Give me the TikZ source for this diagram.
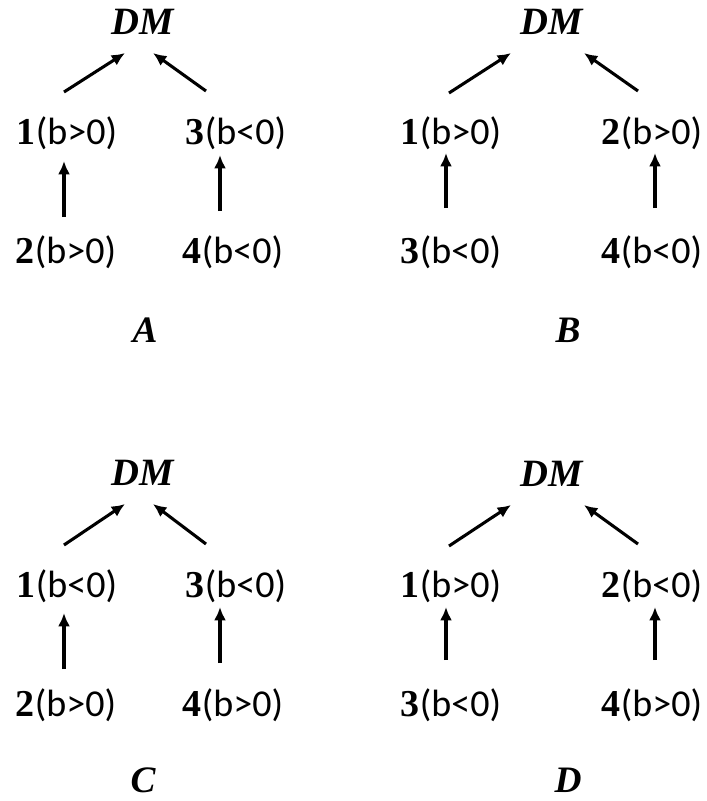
\documentclass[tikz,border=0pt]{standalone}
\usepackage{fontspec}
\usepackage{tikz}
\usetikzlibrary{arrows.meta,calc}

\newfontfamily\calibri{Carlito}
\newfontfamily\cambria{Liberation Serif}
\newcommand{\bnum}[1]{{\cambria\bfseries #1}}

\begin{document}
\begin{tikzpicture}[x=0.75pt,y=-0.75pt,
  lbl/.style={inner sep=0pt,font=\calibri\fontsize{28.5}{30}\selectfont},
  top/.style={inner sep=0pt,font=\cambria\fontsize{29}{30}\selectfont\bfseries\itshape},
  tag/.style={inner sep=0pt,font=\cambria\fontsize{28}{30}\selectfont\bfseries\itshape},
  arr/.style={line width=2.3pt,-{Latex[length=10pt,width=9pt]}}]
\useasboundingbox (0,0) rectangle (707,801);

% A
\node[top] (dmA) at (143,22) {DM};
\node[lbl] (a1) at (67,133) {\bnum{1}(b>0)};
\node[lbl] (a3) at (236,133) {\bnum{3}(b<0)};
\node[lbl] (a2) at (66,252) {\bnum{2}(b>0)};
\node[lbl] (a4) at (233,252) {\bnum{4}(b<0)};
\node[tag] (labA) at (145,330) {A};
\draw[arr] ($(a1)+(-3,-41)$) -- ($(dmA)+(-18,31)$);
\draw[arr] ($(a3)+(-30,-42)$) -- ($(dmA)+(10,31)$);
\draw[arr] ($(a2)+(-2,-35)$) -- ($(a1)+(-3,28)$);
\draw[arr] ($(a4)+(-13,-41)$) -- ($(a3)+(-16,22)$);

% B
\node[top] (dmB) at (552,22) {DM};
\node[lbl] (b1) at (451,133) {\bnum{1}(b>0)};
\node[lbl] (b2) at (652,133) {\bnum{2}(b>0)};
\node[lbl] (b3) at (451,252) {\bnum{3}(b<0)};
\node[lbl] (b4) at (652,252) {\bnum{4}(b<0)};
\node[tag] (labB) at (568,330) {B};
\draw[arr] ($(b1)+(-2,-40)$) -- ($(dmB)+(-41,31)$);
\draw[arr] ($(b2)+(-14,-42)$) -- ($(dmB)+(32,31)$);
\draw[arr] ($(b3)+(-5,-44)$) -- ($(b1)+(-5,20)$);
\draw[arr] ($(b4)+(3,-44)$) -- ($(b2)+(3,20)$);

% C
\node[top] (dmC) at (143,473) {DM};
\node[lbl] (c1) at (67,586) {\bnum{1}(b<0)};
\node[lbl] (c3) at (236,586) {\bnum{3}(b<0)};
\node[lbl] (c2) at (66,705) {\bnum{2}(b>0)};
\node[lbl] (c4) at (233,705) {\bnum{4}(b>0)};
\node[tag] (labC) at (143,780) {C};
\draw[arr] ($(c1)+(-3,-41)$) -- ($(dmC)+(-18,31)$);
\draw[arr] ($(c3)+(-30,-42)$) -- ($(dmC)+(10,31)$);
\draw[arr] ($(c2)+(-2,-36)$) -- ($(c1)+(-3,27)$);
\draw[arr] ($(c4)+(-13,-42)$) -- ($(c3)+(-16,21)$);

% D
\node[top] (dmD) at (552,474) {DM};
\node[lbl] (d1) at (451,586) {\bnum{1}(b>0)};
\node[lbl] (d2) at (652,586) {\bnum{2}(b<0)};
\node[lbl] (d3) at (451,705) {\bnum{3}(b<0)};
\node[lbl] (d4) at (652,705) {\bnum{4}(b>0)};
\node[tag] (labD) at (568,780) {D};
\draw[arr] ($(d1)+(-2,-40)$) -- ($(dmD)+(-41,31)$);
\draw[arr] ($(d2)+(-14,-42)$) -- ($(dmD)+(32,31)$);
\draw[arr] ($(d3)+(-5,-45)$) -- ($(d1)+(-5,21)$);
\draw[arr] ($(d4)+(3,-45)$) -- ($(d2)+(3,21)$);
\end{tikzpicture}
\end{document}
